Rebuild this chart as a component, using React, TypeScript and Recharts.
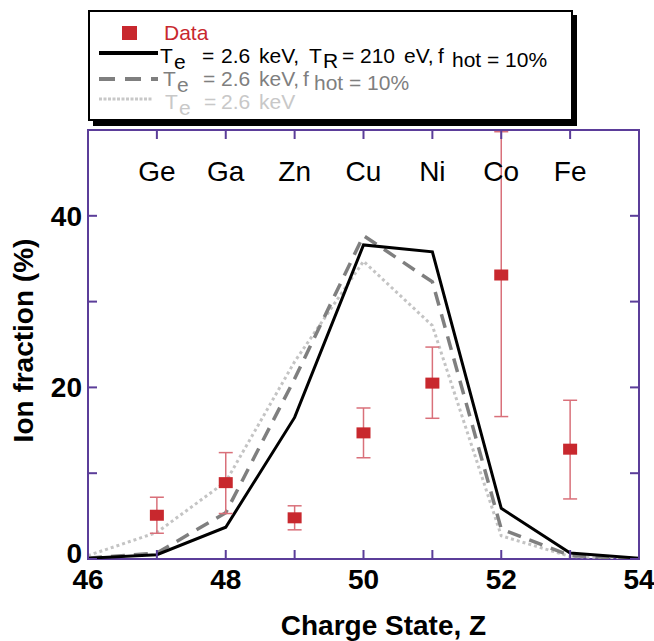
import React from 'react';
import { ComposedChart, Line, Scatter, ErrorBar, XAxis, YAxis, ReferenceArea, Legend } from 'recharts';

// ---- data ----
const chargeStates = [46, 47, 48, 49, 50, 51, 52, 53, 54];
const solidModel = [0.1, 0.5, 3.7, 16.5, 36.6, 35.8, 5.9, 0.7, 0.1];
const dashedModel = [0.1, 0.7, 5.4, 21.0, 37.7, 32.3, 3.5, 0.4, 0.0];
const dottedModel = [0.4, 3.1, 9.0, 23.0, 34.7, 27.2, 2.7, 0.3, 0.0];

const dataCharge = [47, 48, 49, 50, 51, 52, 53];
const dataValue = [5.1, 8.9, 4.8, 14.7, 20.5, 33.1, 12.8];
const dataLow = [3.0, 5.3, 3.4, 11.8, 16.4, 16.6, 7.0];
const dataHigh = [7.2, 12.4, 6.2, 17.6, 24.7, 49.8, 18.5];

const elementCharges = [47, 48, 49, 50, 51, 52, 53];
const elementNames = ['Ge', 'Ga', 'Zn', 'Cu', 'Ni', 'Co', 'Fe'];

const xTicks = [46, 47, 48, 49, 50, 51, 52, 53, 54];
const xLabelTicks = [46, 48, 50, 52, 54];
const yTicks = [0, 10, 20, 30, 40, 50];
const yLabelTicks = [0, 20, 40];

// ---- styles ----
const FONT = '"Liberation Sans", Arial, Helvetica, sans-serif';
const FRAME = '#5b3d99';
const RED = '#c8282e';
const ERR = '#d9707a';
const DASH_GRAY = '#7f7f7f';
const DOT_GRAY = '#c4c4c4';

const lineRows = chargeStates.map((z, i) => ({
  z,
  solid: solidModel[i],
  dashed: dashedModel[i],
  dotted: dottedModel[i],
}));

const pointRows = dataCharge.map((z, i) => ({
  z,
  v: dataValue[i],
  err: [dataValue[i] - dataLow[i], dataHigh[i] - dataValue[i]],
}));

const BottomTick = (props: any) => {
  const { x, y, payload } = props;
  return (
    <g>
      <line x1={x} y1={y} x2={x} y2={y - 9} stroke={FRAME} strokeWidth={2} />
      {xLabelTicks.includes(payload.value) && (
        <text x={x} y={y + 30} textAnchor="middle" fontFamily={FONT} fontWeight="bold" fontSize={28} fill="#000">
          {payload.value}
        </text>
      )}
    </g>
  );
};

const TopTick = (props: any) => {
  const { x, y, payload } = props;
  const idx = elementCharges.indexOf(payload.value);
  return (
    <g>
      <line x1={x} y1={y} x2={x} y2={y + 9} stroke={FRAME} strokeWidth={2} />
      {idx >= 0 && (
        <text x={x} y={y + 51} textAnchor="middle" fontFamily={FONT} fontSize={28} fill="#000">
          {elementNames[idx]}
        </text>
      )}
    </g>
  );
};

const LeftTick = (props: any) => {
  const { x, y, payload } = props;
  return (
    <g>
      <line x1={x} y1={y} x2={x + 9} y2={y} stroke={FRAME} strokeWidth={2} />
      {yLabelTicks.includes(payload.value) && (
        <text x={x - 6} y={y + 10 - (payload.value === 0 ? 6 : 0)} textAnchor="end" fontFamily={FONT} fontWeight="bold" fontSize={28} fill="#000">
          {payload.value}
        </text>
      )}
    </g>
  );
};

const RightTick = (props: any) => {
  const { x, y } = props;
  return <line x1={x} y1={y} x2={x - 9} y2={y} stroke={FRAME} strokeWidth={2} />;
};

const SquareShape = (props: any) => {
  const { cx, cy } = props;
  return <rect x={cx - 7} y={cy - 5.5} width={14} height={11} fill={RED} />;
};

type Piece = [string, number, number];
const row2: Piece[] = [
  ['T', 160, 63], ['e', 174, 69], ['=', 202, 63], ['2.6', 221, 63], ['keV,', 259, 63],
  ['T', 309, 63], ['R', 323, 68], ['=', 342, 63], ['210', 360, 63], ['eV,', 404, 63],
  ['f', 438, 63], ['hot', 452, 67], ['= 10%', 487, 67],
];
const row3: Piece[] = [
  ['T', 163, 86], ['e', 177, 92], ['=', 203, 86], ['2.6', 221, 86], ['keV,', 259, 86],
  ['f', 303, 86], ['hot', 314, 90], ['= 10%', 349, 90],
];
const row4: Piece[] = [
  ['T', 165, 109], ['e', 179, 115], ['=', 204, 109], ['2.6', 221, 109], ['keV', 259, 109],
];

const renderPieces = (pieces: Piece[], color: string) =>
  pieces.map(([t, x, y], i) => (
    <text key={i} x={x} y={y} fill={color} fontFamily={FONT} fontSize={21}>
      {t}
    </text>
  ));

const LegendBox = () => (
  <svg width={654} height={130} style={{ display: 'block' }}>
    <rect x={93} y={15} width={484} height={111} fill="#000" />
    <rect x={89} y={11} width={483} height={109} fill="#fff" stroke="#000" strokeWidth={2} />
    <rect x={122} y={26} width={15} height={14} fill={RED} />
    <text x={164} y={40} fill={RED} fontFamily={FONT} fontSize={21}>Data</text>
    <line x1={99} y1={53} x2={158} y2={53} stroke="#000" strokeWidth={4} />
    {renderPieces(row2, '#000')}
    <line x1={99} y1={79} x2={158} y2={79} stroke={DASH_GRAY} strokeWidth={4} strokeDasharray="16 10" />
    {renderPieces(row3, DASH_GRAY)}
    <line x1={99} y1={99} x2={152} y2={99} stroke="#c8c8c8" strokeWidth={3} strokeDasharray="3 1.5" />
    {renderPieces(row4, '#c8c8c8')}
  </svg>
);

const XTitle = (props: any) => {
  const vb = props.viewBox || { x: 88, y: 559, width: 551, height: 40 };
  return (
    <text x={vb.x + vb.width / 2 + 20} y={635} textAnchor="middle" fontFamily={FONT} fontWeight="bold" fontSize={28} fill="#000">
      Charge State, Z
    </text>
  );
};

const YTitle = (props: any) => {
  const vb = props.viewBox || { x: 38, y: 130, width: 50, height: 429 };
  const cx = 33;
  const cy = vb.y + vb.height / 2 - 4;
  return (
    <text x={cx} y={cy} transform={`rotate(-90 ${cx} ${cy})`} textAnchor="middle" fontFamily={FONT} fontWeight="bold" fontSize={28} fill="#000">
      Ion fraction (%)
    </text>
  );
};

export default function App() {
  return (
    <div style={{ position: 'absolute', left: 0, top: 0, width: 654, height: 641, background: '#fff' }}>
      <ComposedChart
        width={654}
        height={641}
        data={lineRows}
        margin={{ top: 120, right: 5, bottom: 42, left: 38 }}
      >
        <XAxis
          dataKey="z"
          type="number"
          domain={[46, 54]}
          ticks={xTicks}
          interval={0}
          height={40}
          axisLine={false}
          tickLine={false}
          tickSize={0}
          tickMargin={0}
          tick={(p: any) => <BottomTick {...p} />}
          label={(p: any) => <XTitle {...p} />}
          allowDataOverflow
        />
        <XAxis
          xAxisId="top"
          orientation="top"
          dataKey="z"
          type="number"
          domain={[46, 54]}
          ticks={xTicks}
          interval={0}
          height={10}
          axisLine={false}
          tickLine={false}
          tickSize={0}
          tickMargin={0}
          tick={(p: any) => <TopTick {...p} />}
          allowDataOverflow
        />
        <YAxis
          type="number"
          domain={[0, 50]}
          ticks={yTicks}
          interval={0}
          width={50}
          axisLine={false}
          tickLine={false}
          tickSize={0}
          tickMargin={0}
          tick={(p: any) => <LeftTick {...p} />}
          label={(p: any) => <YTitle {...p} />}
          allowDataOverflow
        />
        <YAxis
          yAxisId="right"
          orientation="right"
          type="number"
          domain={[0, 50]}
          ticks={yTicks}
          interval={0}
          width={10}
          axisLine={false}
          tickLine={false}
          tickSize={0}
          tickMargin={0}
          tick={(p: any) => <RightTick {...p} />}
          allowDataOverflow
        />
        <ReferenceArea x1={46} x2={54} y1={0} y2={50} fill="none" stroke={FRAME} strokeWidth={2} />
        <Line dataKey="dotted" type="linear" stroke={DOT_GRAY} strokeWidth={3} strokeDasharray="3 3" dot={false} activeDot={false} isAnimationActive={false} />
        <Line dataKey="dashed" type="linear" stroke={DASH_GRAY} strokeWidth={3.5} strokeDasharray="14 9" dot={false} activeDot={false} isAnimationActive={false} />
        <Line dataKey="solid" type="linear" stroke="#000" strokeWidth={3} dot={false} activeDot={false} isAnimationActive={false} />
        <Scatter data={pointRows} dataKey="v" fill={RED} shape={(p: any) => <SquareShape {...p} />} isAnimationActive={false}>
          <ErrorBar dataKey="err" direction="y" width={7} stroke={ERR} strokeWidth={1.5} />
        </Scatter>
        <Legend
          layout="horizontal"
          verticalAlign="middle"
          align="center"
          content={() => <LegendBox />}
          wrapperStyle={{ position: 'absolute', left: 0, top: 0, width: 654, height: 130, margin: 0, padding: 0 }}
        />
      </ComposedChart>
    </div>
  );
}
